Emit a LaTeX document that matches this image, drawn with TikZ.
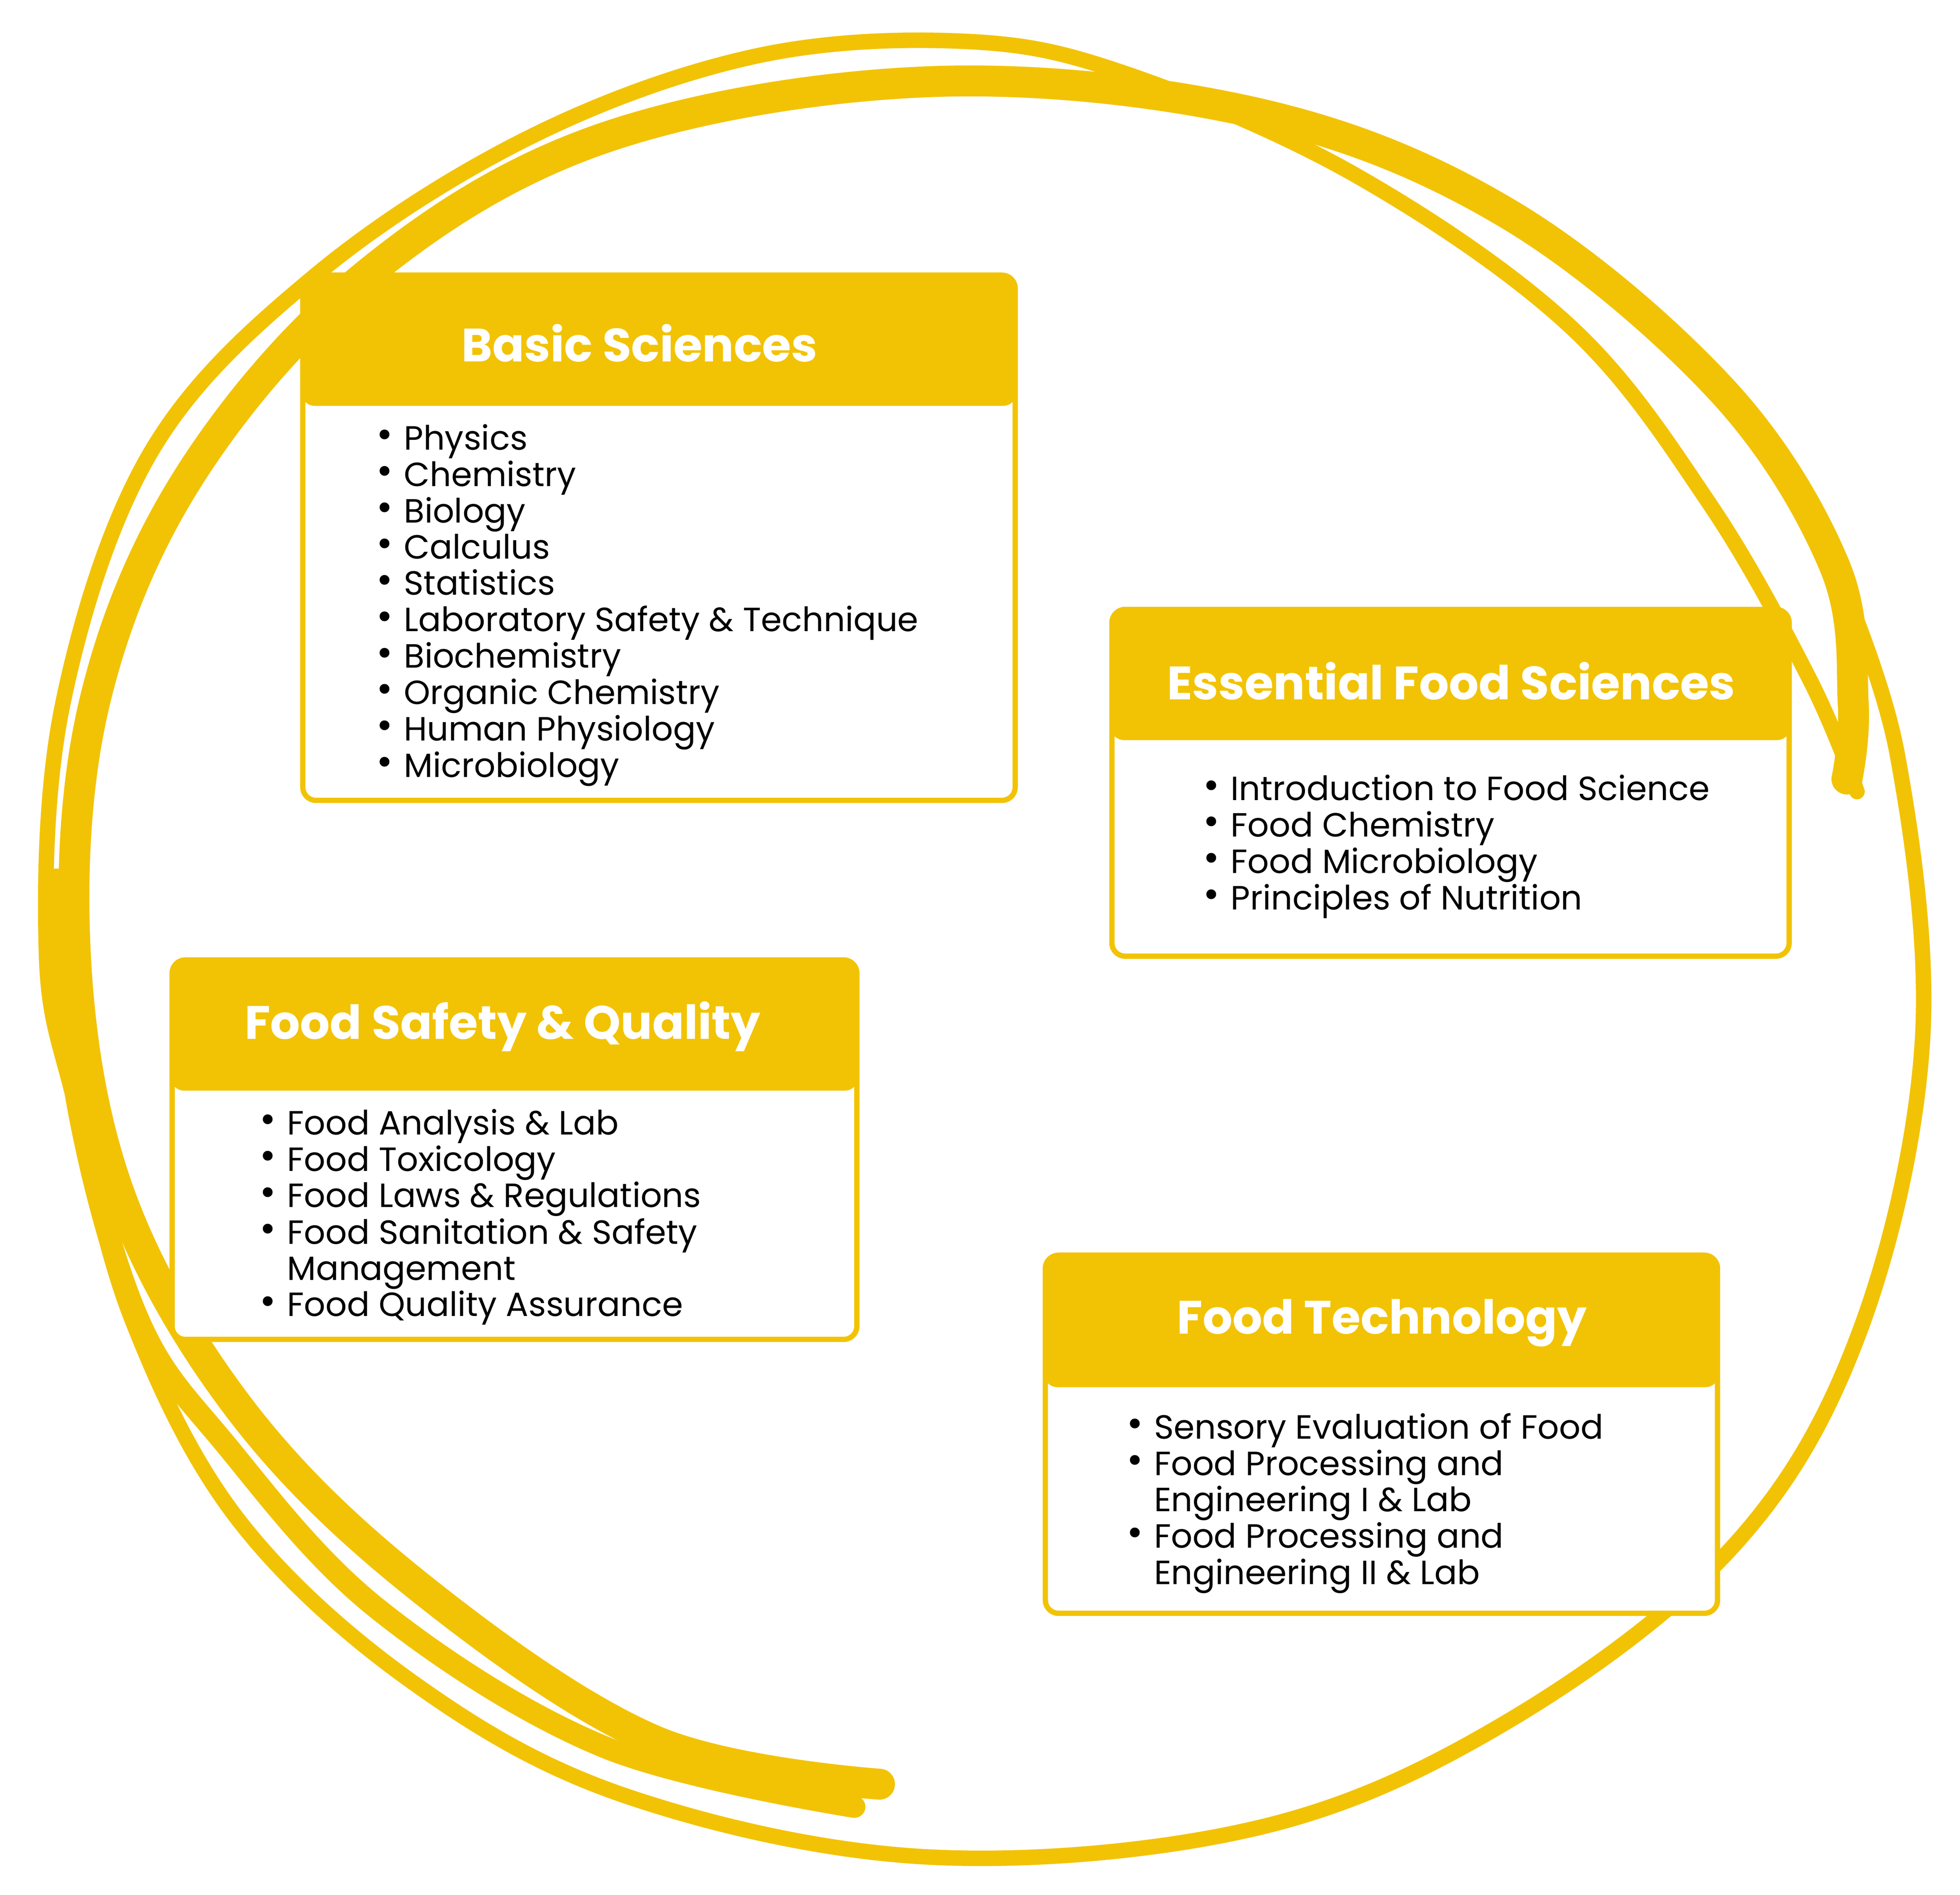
\documentclass[tikz,border=0pt]{standalone}
\usepackage{fontspec}
\setmainfont{Poppins}
\definecolor{gold}{HTML}{F2C305}
\newcommand{\catbox}[5]{%
  \draw[gold,line width=1.2pt,rounded corners=3pt,fill=white] (#1,#3) rectangle (#2,#5);
  \fill[gold,rounded corners=3pt] (#1-1,#3-1) rectangle (#2+1,#4);
}
\newcommand{\bul}{\raisebox{0.1ex}{\fontsize{9}{9}\selectfont•}}
\begin{document}
\begin{tikzpicture}[x=0.01cm,y=-0.01cm,
  hdr/.style={font=\fontsize{10.6}{12}\selectfont\bfseries,text=white},
  lst/.style={anchor=north west,inner sep=0pt,font=\fontsize{7.6}{8.16}\selectfont,align=left},
  loop/.style={draw=gold,line cap=round,line join=round}]
\useasboundingbox (0,0) rectangle (1560,1508);
\draw[loop,line width=7pt] plot[smooth,tension=0.6] coordinates {(700,1420) (520,1385) (330,1260) (190,1120) (95,950) (60,760) (75,560) (150,380) (290,220) (480,110) (740,65) (1000,90) (1200,170) (1370,310) (1460,450) (1475,560) (1470,620)};
\draw[loop,line width=3.5pt] plot[smooth,tension=0.6] coordinates {(1478,630) (1440,540) (1360,400) (1250,260) (1080,140) (900,60) (770,33) (600,45) (420,110) (250,220) (120,360) (50,560) (37,760) (60,880) (105,1050) (190,1210) (330,1340) (500,1430) (740,1478) (1000,1455) (1200,1370) (1380,1230) (1480,1060) (1530,830) (1510,600) (1460,450)};
\draw[loop,line width=5pt] plot[smooth,tension=0.6] coordinates {(680,1438) (480,1390) (300,1280) (180,1150) (110,1050) (62,880) (45,700)};
\catbox{241}{808}{219}{323}{637}
\catbox{885}{1424}{485}{589}{761}
\catbox{137}{682}{764}{868}{1066}
\catbox{832}{1367}{999}{1104}{1284}
\node[hdr] (h1) at (509,273) {Basic Sciences};
\node[hdr] (h2) at (1155,542) {Essential Food Sciences};
\node[hdr] (h3) at (400,817) {Food Safety \& Quality};
\node[hdr] (h4) at (1100,1053) {Food Technology};
\node[lst] (l1) at (299,337) {\begin{tabular}{@{}l@{\hspace{2.5pt}}l@{}}
\bul & Physics\\ \bul & Chemistry\\ \bul & Biology\\ \bul & Calculus\\ \bul & Statistics\\
\bul & Laboratory Safety \& Technique\\ \bul & Biochemistry\\ \bul & Organic Chemistry\\
\bul & Human Physiology\\ \bul & Microbiology\end{tabular}};
\node[lst] (l2) at (957,616) {\begin{tabular}{@{}l@{\hspace{2.5pt}}l@{}}
\bul & Introduction to Food Science\\ \bul & Food Chemistry\\ \bul & Food Microbiology\\
\bul & Principles of Nutrition\end{tabular}};
\node[lst] (l3) at (206,882) {\begin{tabular}{@{}l@{\hspace{2.5pt}}l@{}}
\bul & Food Analysis \& Lab\\ \bul & Food Toxicology\\ \bul & Food Laws \& Regulations\\
\bul & Food Sanitation \& Safety\\ & Management\\ \bul & Food Quality Assurance\end{tabular}};
\node[lst] (l4) at (896,1124) {\begin{tabular}{@{}l@{\hspace{2.5pt}}l@{}}
\bul & Sensory Evaluation of Food\\ \bul & Food Processing and\\ & Engineering I \& Lab\\
\bul & Food Processing and\\ & Engineering II \& Lab\end{tabular}};
\end{tikzpicture}
\end{document}
